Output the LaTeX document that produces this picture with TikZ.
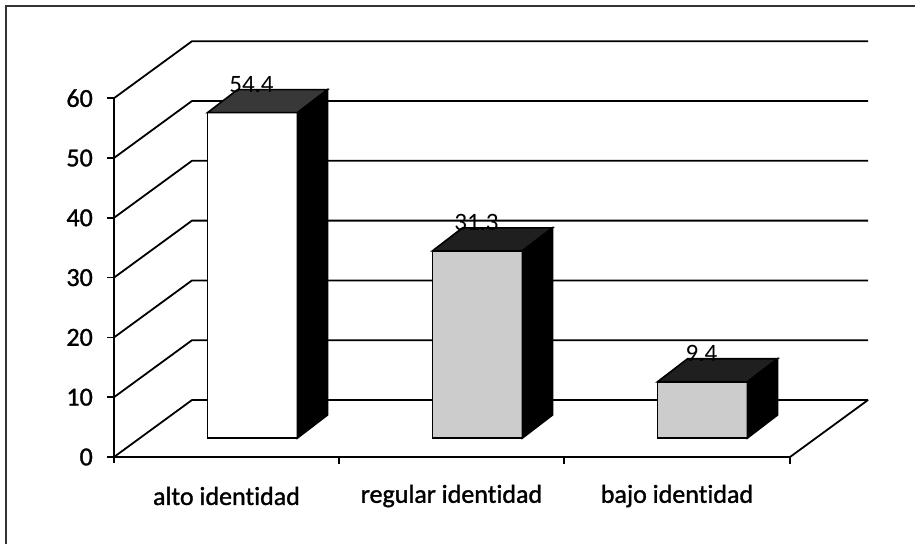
\documentclass[tikz,border=0pt]{standalone}
\usepackage{fontspec}
\setmainfont[Ligatures=NoCommon]{Carlito}
\newfontfamily\heavyfont[Ligatures=NoCommon,FakeBold=1.2]{Carlito}
\begin{document}
\begin{tikzpicture}[x=1pt,y=-1pt,
  grid/.style={line width=1.8pt,black},
  axisline/.style={line width=1.6pt,black},
  barline/.style={line width=1.6pt,black,line join=miter},
  lbl/.style={font=\heavyfont\fontsize{26}{30}\selectfont,inner sep=0pt},
  ticklbl/.style={font=\heavyfont\fontsize{26}{30}\selectfont,inner sep=0pt,anchor=east},
  vallbl/.style={font=\fontsize{25}{30}\selectfont,inner sep=0pt}]
\useasboundingbox (0,0) rectangle (915,544);
% frame
\draw[line width=1.5pt,black!80] (6,544) -- (6,6) -- (915,6);
% gridlines (back wall + left wall)
\foreach \v in {0,10,...,60}{
  \draw[grid] (114,{457-5.98*\v}) -- (192,{400-5.98*\v}) -- (868,{400-5.98*\v});
}
% floor
\draw[grid] (790,457) -- (868,400);
% y axis
\draw[axisline] (114,98) -- (114,463);
\foreach \v in {0,10,...,60}{
  \draw[axisline] (107,{457-5.98*\v}) -- (114,{457-5.98*\v});
  \node[ticklbl] (t\v) at (93,{457-5.98*\v}) {\v};
}
% x axis
\draw[axisline] (107,457) -- (790,457);
\foreach \x in {339,564,790}{
  \draw[axisline] (\x,457) -- (\x,464);
}
% bars
\foreach \i/\val/\front/\topc in {0/54.4/white/black!78,1/31.3/black!20/black!88,2/9.4/black!20/black!88}{
  \pgfmathsetmacro{\L}{207.5+225*\i}
  \pgfmathsetmacro{\T}{438-5.98*\val}
  \filldraw[barline,fill=\front] (\L,438) rectangle ({\L+90},\T);
  \filldraw[barline,fill=\topc] (\L,\T) -- ({\L+30},{\T-23}) -- ({\L+120},{\T-23}) -- ({\L+90},\T) -- cycle;
  \filldraw[barline,fill=black] ({\L+90},\T) -- ({\L+120},{\T-23}) -- ({\L+120},415) -- ({\L+90},438) -- cycle;
  \node[vallbl] (v\i) at ({\L+44},{\T-28}) {\val};
}
% category labels
\node[lbl] (c1) at (226.5,496) {alto identidad};
\node[lbl] (c2) at (451.5,496) {regular identidad};
\node[lbl] (c3) at (677,496) {bajo identidad};
\end{tikzpicture}
\end{document}
